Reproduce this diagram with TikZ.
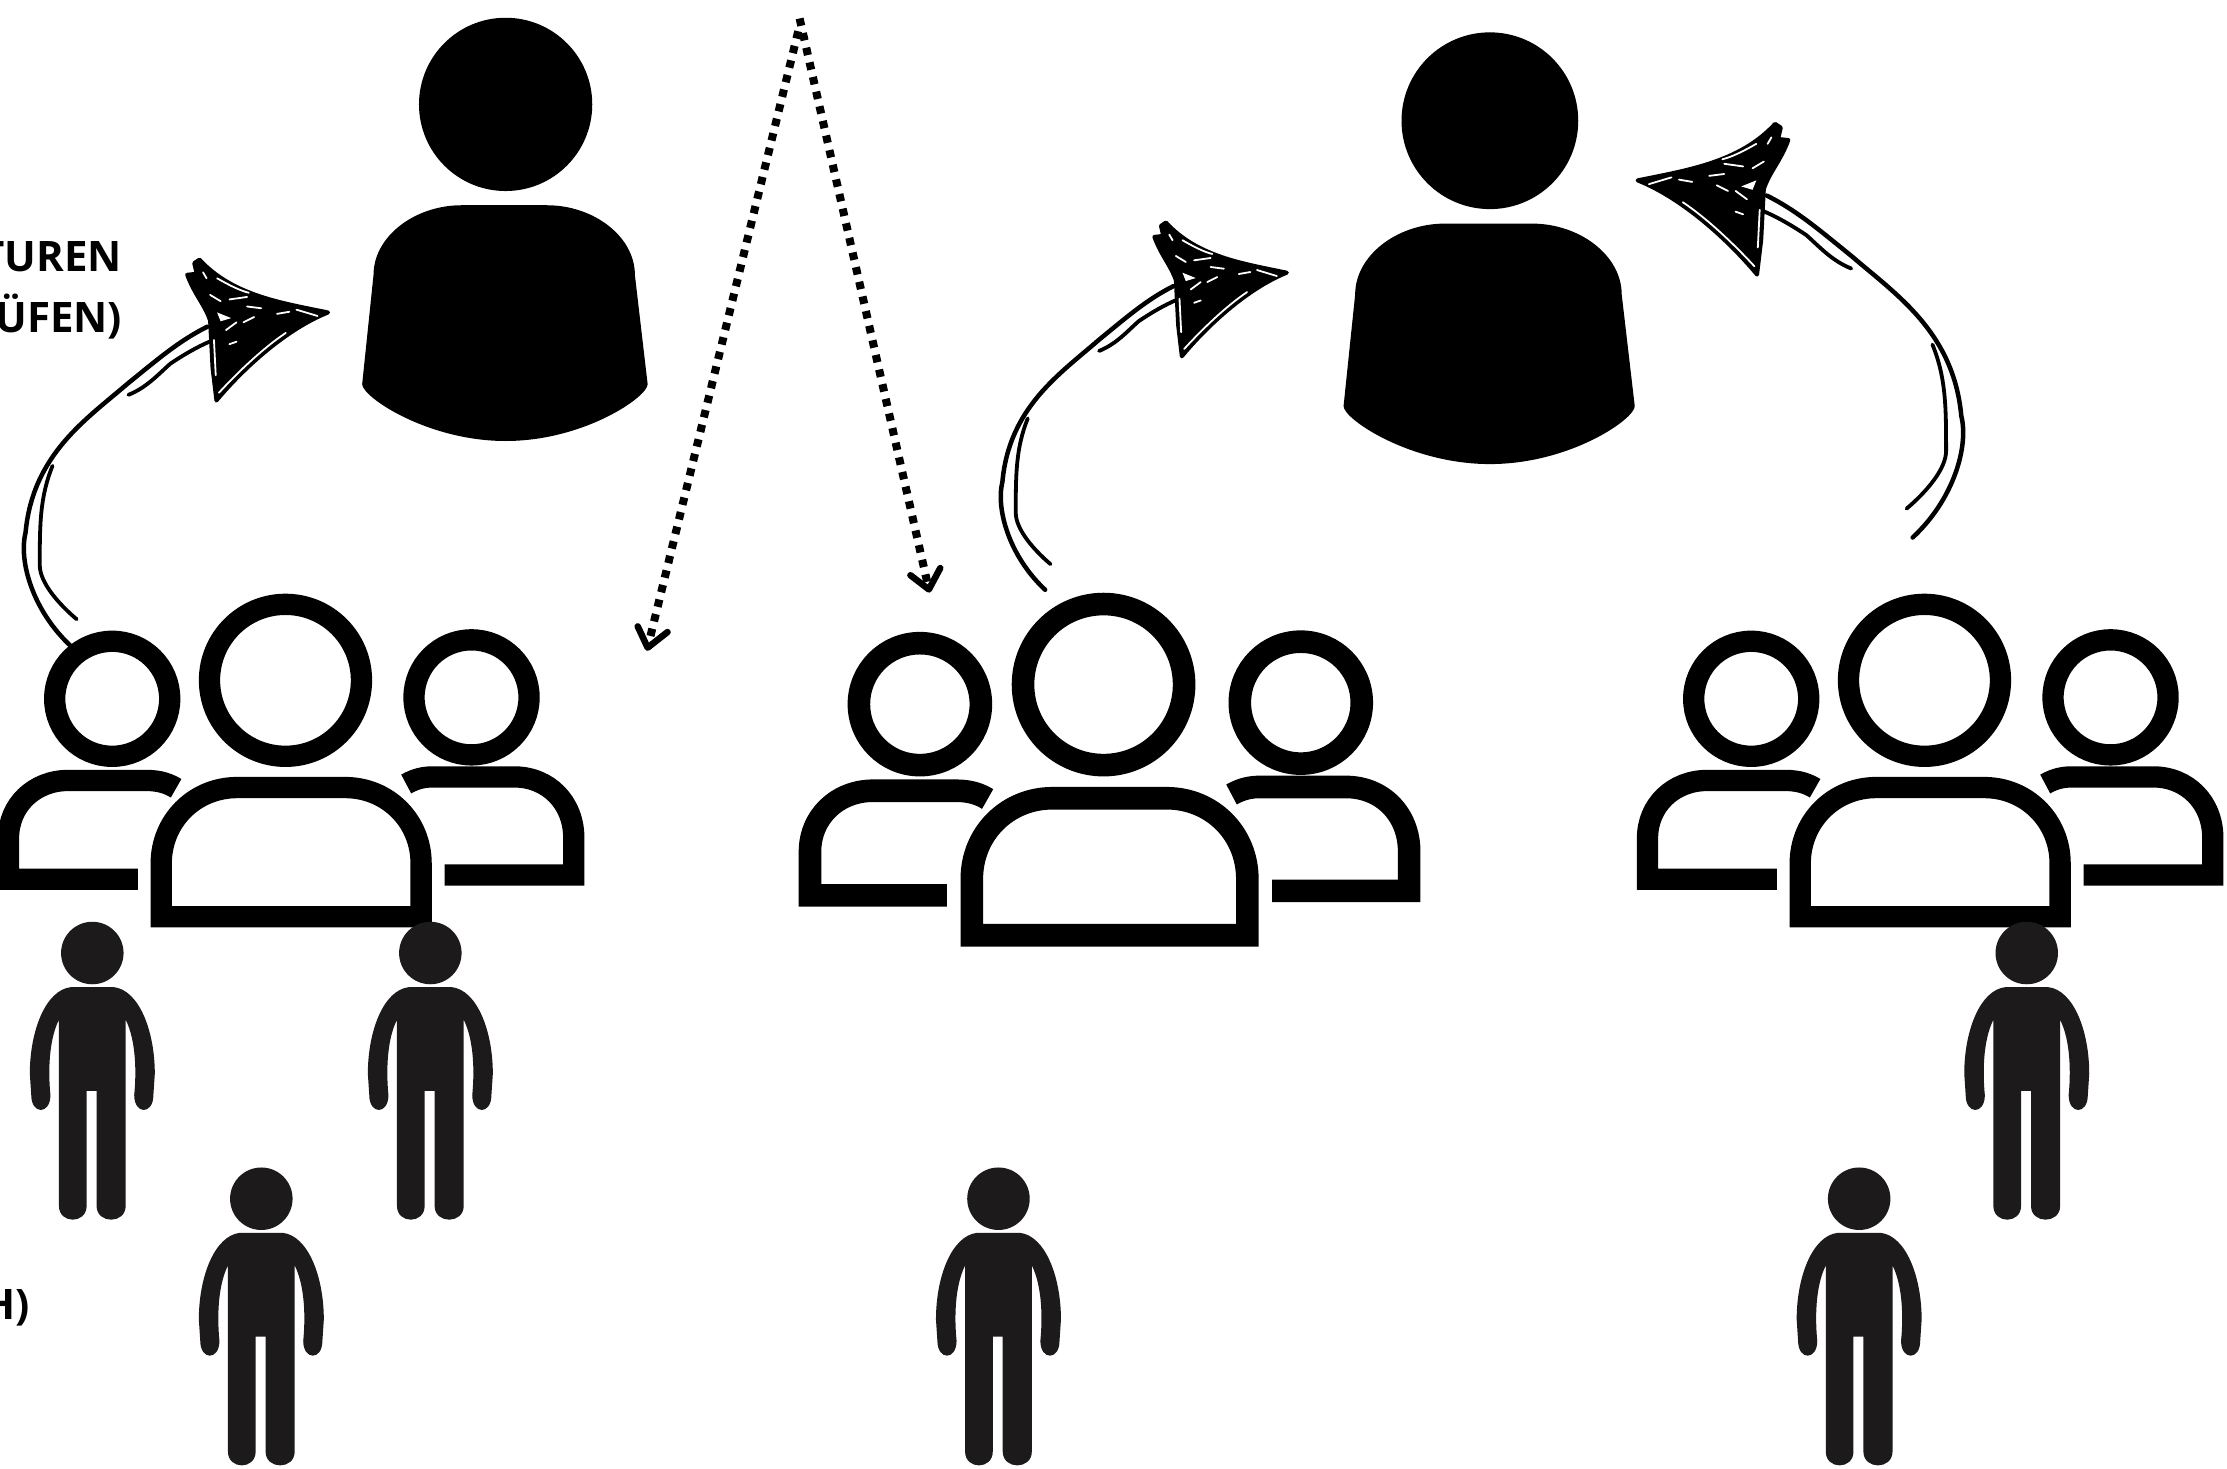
\documentclass[tikz,border=0pt]{standalone}
\usepackage{fontspec}
\setmainfont{Open Sans}
\definecolor{figgray}{HTML}{1C1A1B}
\tikzset{
  x=1.4203pt,y=-1.4203pt,
  labeltext/.style={font=\fontsize{42}{50}\selectfont\bfseries,inner sep=0pt,text=black},
  dotline/.style={line width=8pt,dash pattern=on 7.5pt off 7.5pt,draw=black},
  chevron/.style={line width=6.5pt,line cap=round,line join=round,draw=black},
  shaft/.style={line width=4.5pt,line cap=round,draw=black},
  slit/.style={draw=white,line cap=round,line width=1.8pt},
  pics/standing/.style={code={
    \fill[figgray] (0,0) circle[radius=22];
    \fill[figgray] (-15,24) -- (15,24)
      .. controls (33,26) and (44,55) .. (44,85) -- (43,100)
      .. controls (43,114) and (29.5,114) .. (29.5,100)
      .. controls (31,85) and (31,62) .. (23.5,47)
      -- (23.5,178) .. controls (23.5,191) and (3,191) .. (3,178)
      -- (3,97) -- (-4,97) -- (-4,178)
      .. controls (-4,191) and (-23.5,191) .. (-23.5,178)
      -- (-23.5,47)
      .. controls (-31,62) and (-31,85) .. (-29.5,100)
      .. controls (-29.5,114) and (-43,114) .. (-43,100) -- (-44,85)
      .. controls (-44,55) and (-33,26) .. (-15,24) -- cycle;
  }},
  pics/bust/.style={code={
    \fill[black] (0,0) circle[radius=61];
    \fill[black] (-31,71) -- (29,71)
      .. controls (62,71) and (91,93) .. (91,120)
      -- (100,197)
      .. controls (100,206) and (55,237) .. (0,237)
      .. controls (-55,237) and (-101,206) .. (-101,197)
      -- (-93,120)
      .. controls (-93,93) and (-64,71) .. (-31,71) -- cycle;
  }},
  pics/crowd/.style={code={
    \begin{scope}[line width=#1,draw=black,miter limit=10]
      \draw (0,0) circle[radius=53.5];
      \draw (-87.5,166.5) -- (-87.5,129) .. controls (-87.5,99) and (-64,75.5) .. (-34,75.5)
        -- (42,75.5) .. controls (72,75.5) and (95.5,99) .. (95.5,129) -- (95.5,166.5) -- cycle;
      \draw (-122,13) circle[radius=40.5];
      \draw (-104,140) -- (-195,140) -- (-195,111) .. controls (-195,88) and (-177,70.5) .. (-153,70.5)
        -- (-98,70.5) .. controls (-88,70.5) and (-82,73) .. (-77,76);
      \draw (131,12) circle[radius=40.5];
      \draw (85,73) .. controls (92,69) and (98,68) .. (104,68) -- (161,68)
        .. controls (185,68) and (203,86) .. (203,111) -- (203,137) -- (112,137);
    \end{scope}
  }},
  pics/sketcharrow/.style={code={
    \draw[shaft] (-181,235) .. controls (-208,210) and (-218,175) .. (-213,155)
      .. controls (-208,100) and (-170,75) .. (-141,50)
      .. controls (-120,33) and (-105,20) .. (-85,10);
    \draw[shaft,line width=3.8pt] (-177,216) .. controls (-190,205) and (-203,190) .. (-203,178)
      .. controls (-203,150) and (-203,130) .. (-194,108);
    \draw[shaft,line width=3.8pt] (-140.6,58) .. controls (-128,53) and (-120,44) .. (-111,36)
      .. controls (-102,30) and (-92,24) .. (-81,19.5);
    \begin{scope}[scale=0.248,shift={(-560,-222)}]
      \filldraw[black,line width=4pt,line join=round]
        (560,222) .. controls (430,195) and (290,175) .. (195,72)
        -- (180,82) -- (187,112) -- (160,115) .. controls (180,170) and (210,200) .. (225,245)
        -- (232,380) -- (243,472) .. controls (320,380) and (440,270) .. (560,222) -- cycle;
      \fill[white] (245,222) -- (285,238) -- (255,247) -- cycle;
      \draw[slit] (205,108) -- (215,125);
      \draw[slit] (225,172) -- (255,190);
      \draw[slit] (280,185) -- (330,178);
      \draw[slit] (330,205) -- (370,210);
      \draw[slit] (415,226) -- (450,220);
      \draw[slit] (470,214) -- (530,232);
      \draw[slit] (245,125) .. controls (280,145) and (310,160) .. (335,166);
      \draw[slit] (250,450) .. controls (310,385) and (380,320) .. (440,280);
      \draw[slit] (236,300) -- (241,400);
      \draw[slit] (280,312) -- (300,305);
      \draw[slit] (270,272) -- (300,250);
      \draw[slit] (320,250) -- (350,235);
    \end{scope}
  }},
}
\begin{document}
\begin{tikzpicture}
\useasboundingbox (0,0) rectangle (1568,1034);

\node[labeltext,anchor=base east] (lblA) at (86,191) {TUREN};
\node[labeltext,anchor=base east] (lblB) at (86,234) {ÜFEN)};
\node[labeltext,anchor=base east] (lblC) at (21,929) {H)};

\pic (bustA) at (356,73.5) {bust};
\pic[scale=1.02] (bustB) at (1049,85) {bust};

\pic (crowdA) at (201,479) {crowd=21.3pt};
\pic[scale=1.06] (crowdB) at (777,482) {crowd=22.6pt};
\pic (crowdC) at (1355,479) {crowd=21.3pt};

\foreach \px/\py [count=\i] in {65/671,303/671,184/844,703/844,1427/671,1309/844}
  \pic (fig\i) at (\px,\py) {standing};

\pic (arrowA) at (231,220) {sketcharrow};
\pic[xscale=0.94,yscale=0.95] (arrowB) at (906,192) {sketcharrow};
\pic[xscale=-1.07,yscale=1.07] (arrowC) at (1153,127) {sketcharrow};

\coordinate (apex) at (563,13);
\coordinate (apexL) at (562,22);
\coordinate (tipL) at (456,456);
\coordinate (tipR) at (654,415);
\coordinate (wingLa) at (449,441);
\coordinate (wingLb) at (470,445);
\coordinate (wingRa) at (641,405);
\coordinate (wingRb) at (662,400);
\draw[dotline] (apexL) -- (tipL);
\draw[dotline] (apex) -- (tipR);
\draw[chevron] (wingLa) -- (tipL) -- (wingLb);
\draw[chevron] (wingRa) -- (tipR) -- (wingRb);
\end{tikzpicture}
\end{document}
